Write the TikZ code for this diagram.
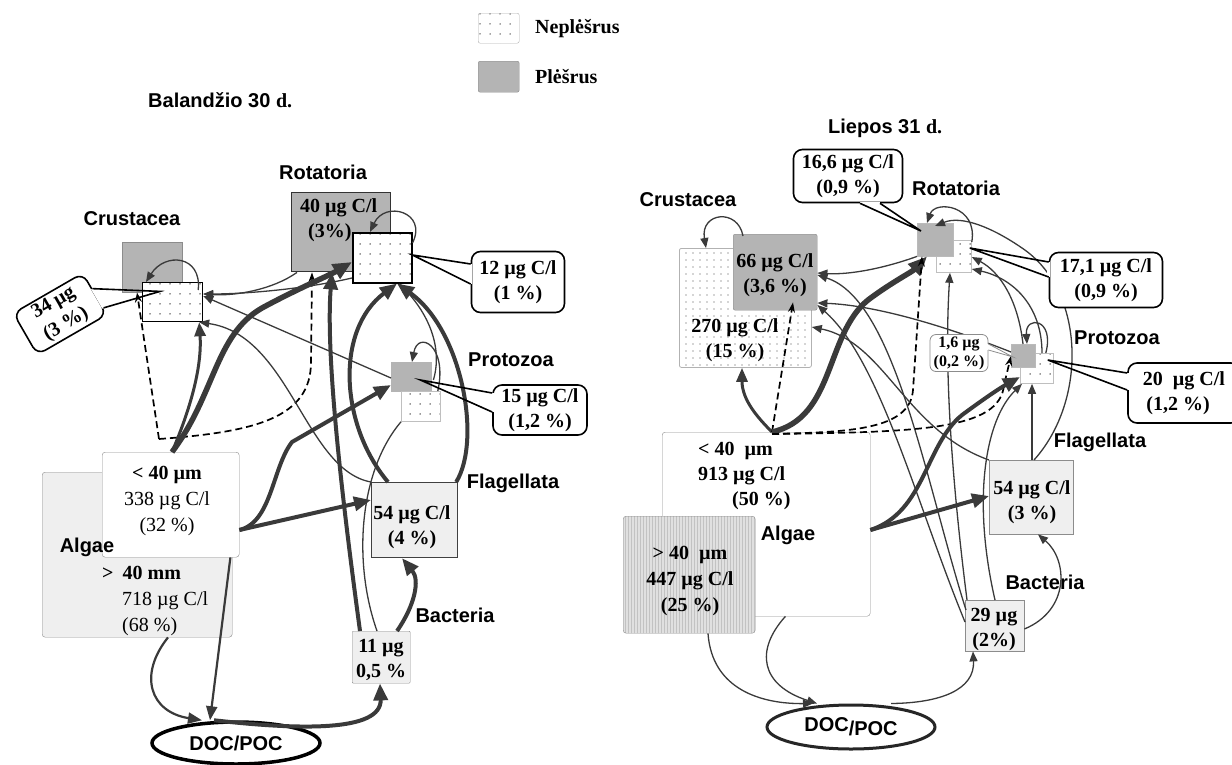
\documentclass[tikz,border=0pt]{standalone}
\usepackage{fontspec}
\setmainfont{Liberation Serif}
\setsansfont{Liberation Sans}
\usetikzlibrary{arrows.meta, patterns, shapes.geometric}
\definecolor{predgray}{HTML}{B4B4B4}
\definecolor{poolgray}{HTML}{EFEFEF}
\definecolor{flow}{HTML}{3A3A3A}
\definecolor{edgegray}{HTML}{8C8C8C}
\pgfdeclarepatternformonly{sparsedots}{\pgfpoint{-1pt}{-1pt}}{\pgfpoint{1pt}{1pt}}{\pgfpoint{10pt}{10pt}}{\pgfpathcircle{\pgfpointorigin}{0.75pt}\pgfusepath{fill}}
\pgfdeclarepatternformonly{finedots}{\pgfpoint{-1pt}{-1pt}}{\pgfpoint{1pt}{1pt}}{\pgfpoint{7pt}{7pt}}{\pgfpathcircle{\pgfpointorigin}{0.6pt}\pgfusepath{fill}}
\pgfdeclarepatternformonly{vstripes}{\pgfpointorigin}{\pgfpoint{2.5pt}{1pt}}{\pgfpoint{2.5pt}{1pt}}{\pgfpathrectangle{\pgfpointorigin}{\pgfpoint{0.9pt}{1pt}}\pgfusepath{fill}}
\tikzset{
  pred/.style={draw=edgegray, fill=predgray, inner sep=0pt, anchor=north west},
  prey/.style={draw=black, line width=1.2pt, inner sep=0pt, anchor=north west,
               preaction={fill=white}, pattern=sparsedots, pattern color=black!80},
  pool/.style={draw=edgegray, fill=poolgray, inner sep=0pt, anchor=north west},
  tag/.style={font=\sffamily\bfseries\fontsize{20}{24}\selectfont, inner sep=0pt},
  num/.style={font=\bfseries\fontsize{20}{25}\selectfont, align=center, inner sep=0pt},
  numr/.style={font=\fontsize{20}{26}\selectfont, align=center, inner sep=0pt},
  callout/.style={draw, line width=1.6pt, rounded corners=9pt, fill=white, inner sep=0pt,
                  font=\bfseries\fontsize{20}{25}\selectfont, align=center},
  tail/.style={line width=1.6pt},
  fl/.style={-{Triangle[length=10pt,width=8pt]}, flow, line width=1.3pt},
  fll/.style={flow, line width=1.3pt},
  flm/.style={-{Triangle[length=14pt,width=11pt]}, flow, line width=3pt},
  flk/.style={-{Triangle[length=17pt,width=14pt]}, flow, line width=4pt},
  flx/.style={-{Triangle[length=19pt,width=16pt]}, flow, line width=5.5pt},
  dl/.style={-{Stealth[length=10pt,width=7pt]}, black, dashed, line width=1.7pt,
             dash pattern=on 7pt off 4pt},
}

\begin{document}
\begin{tikzpicture}[x=1pt, y=-1pt]
  \useasboundingbox (0,0) rectangle (1232,764);

  % legend
  \node[pool, draw=edgegray!70, preaction={fill=white}, pattern=sparsedots, pattern color=black!70,
        minimum width=41pt, minimum height=30pt, rounded corners=2pt] (legD) at (478,13) {};
  \node[pred, minimum width=41pt, minimum height=31pt, rounded corners=2pt] (legG) at (478,61) {};
  \node[num, anchor=west] (legDt) at (535,29) {Neplėšrus};
  \node[num, anchor=west] (legGt) at (535,77) {Plėšrus};

  % ---- Balandzio 30 d.
  \node[tag, anchor=west] (titA) at (148,100) {Balandžio 30 {\rmfamily d.}};

  \node[pool, rounded corners=3pt, minimum width=190pt, minimum height=165pt] (algL1) at (42,472) {};
  \node[pool, fill=white, rounded corners=3pt, minimum width=137pt, minimum height=105pt] (algS1) at (102,452) {};
  \node[numr] (algS1t) at (167,501) {\textbf{< 40 µm}\\338 µg C/l\\(32 \%)};
  \node[numr, align=left, anchor=west] (algL1t) at (102,601)
       {\textbf{>}\hspace{9pt}\textbf{40 mm}\\\hspace*{20pt}718 µg C/l\\\hspace*{20pt}(68 \%)};
  \node[tag] (algA) at (87,547) {Algae};

  \node[pred, minimum width=60pt, minimum height=50pt] (crusG1) at (122,242) {};
  \node[prey, minimum width=60pt, minimum height=39pt] (crusD1) at (142,282) {};
  \node[tag] (crusA) at (132,219) {Crustacea};

  \node[pred, draw=black!80, line width=1.4pt, minimum width=99pt, minimum height=79pt] (rotG1) at (291,192) {};
  \node[num, align=left, anchor=west] (rotG1t) at (300,220) {40 µg C/l\\\hspace*{8pt}(3\%)};
  \node[prey, line width=1.5pt, minimum width=59pt, minimum height=50pt] (rotD1) at (352,232) {};
  \node[tag] (rotA) at (323,172) {Rotatoria};

  \node[pred, draw=predgray, minimum width=40pt, minimum height=29pt] (proG1) at (391,362) {};
  \node[prey, draw=black!25, line width=0.8pt, minimum width=39pt, minimum height=30pt] (proD1) at (401,391) {};
  \node[tag] (proA) at (511,360) {Protozoa};

  \node[pool, draw=black!75, line width=1.2pt, minimum width=86pt, minimum height=75pt] (flag1) at (371,482) {};
  \node[num] (flag1t) at (412,527) {54 µg C/l\\(4 \%)};
  \node[tag] (flagA) at (513,483) {Flagellata};

  \node[pool, minimum width=58pt, minimum height=52pt, rounded corners=1pt] (bact1) at (352,631) {};
  \node[num] (bact1t) at (381,660) {11 µg\\0,5 \%};
  \node[tag] (bactA) at (455,615) {Bacteria};

  \node[ellipse, draw=black, line width=3.5pt, fill=white, minimum width=168pt, minimum height=42pt,
        inner sep=0pt, font=\sffamily\bfseries\fontsize{20}{24}\selectfont] (doc1) at (236,743) {DOC/POC};

  \coordinate (fork1) at (159,439);
  \draw[dl] (fork1) -- ([shift={(15,0)}]crusG1.south west);
  \draw[dl] (fork1) .. controls (255,432) and (311,418) .. (311,362) -- ([shift={(21,0)}]rotG1.south west);
  \draw[flm] ([shift={(70,0)}]algS1.north west) .. controls (192,405) and (202,365) .. ([shift={(-4,0)}]crusD1.south east);
  \draw[flx] ([shift={(70,0)}]algS1.north west) .. controls (215,395) and (215,335) .. (262,308)
             .. controls (295,290) and (330,275) .. ([shift={(0,30)}]rotD1.north west);
  \draw[flk] ([shift={(0,78)}]algS1.north east) -- ([shift={(0,18)}]flag1.north west);
  \draw[flk] ([shift={(0,78)}]algS1.north east) .. controls (272,522) and (272,468) .. (292,442)
             -- ([shift={(0,23)}]proG1.north west);
  \draw[fl] ([shift={(6,0)}]rotG1.south west) .. controls (272,290) and (235,296) .. ([shift={(0,12)}]crusD1.north east);
  \draw[fl] ([shift={(0,46)}]rotD1.north west) .. controls (300,290) and (240,294) .. ([shift={(0,12)}]crusD1.north east);
  \draw[fl] ([shift={(0,16)}]proG1.north west) -- ([shift={(0,14)}]crusD1.north east);
  \draw[fl] (flag1.north west) .. controls (305,470) and (290,335) .. ([shift={(-4,0)}]crusD1.south east);
  \draw[flk] ([shift={(8,0)}]bact1.north west) .. controls (345,520) and (325,360) .. ([shift={(41,0)}]rotG1.south west);
  \draw[flk] ([shift={(17,0)}]flag1.north west) .. controls (340,425) and (335,330) .. ([shift={(45,0)}]rotD1.south west);
  \draw[flk] ([shift={(-2,0)}]flag1.north east) .. controls (482,440) and (462,330) .. ([shift={(45,0)}]rotD1.south west);
  \draw[fl] ([shift={(2,18)}]proG1.north east) .. controls (445,340) and (420,305) .. ([shift={(47,0)}]rotD1.south west);
  \draw[fll] ([shift={(25,0)}]bact1.north west) .. controls (352,560) and (360,470) .. (proD1.south west);
  \draw[flk] ([shift={(45,0)}]bact1.north west) .. controls (415,605) and (420,580) .. ([shift={(31,0)}]flag1.south west);
  \draw[flk] ([shift={(-22,0)}]doc1.north) .. controls (300,730) and (382,732) .. ([shift={(28,0)}]bact1.south west);
  \draw[flm, line width=2.2pt] ([shift={(126,0)}]algL1.south west) .. controls (138,675) and (150,712) .. ([shift={(-34,0)}]doc1.north);
  \draw[flm, line width=2.2pt] ([shift={(-9,0)}]algS1.south east) -- ([shift={(-26,0)}]doc1.north);
  \draw[fl] ([shift={(-5,8)}]crusD1.north east) .. controls (202,255) and (165,252) .. ([shift={(4,0)}]crusD1.north west);
  \draw[fl] ([shift={(0,11)}]rotD1.north east) .. controls (428,212) and (385,200) .. ([shift={(18,0)}]rotD1.north west);
  \draw[fl] ([shift={(-3,0)}]proD1.north east) .. controls (448,345) and (418,330) .. ([shift={(21,0)}]proG1.north west);

  \node[callout, rotate=30, minimum width=80pt, minimum height=48pt] (cal34) at (60,314) {34 µg\\(3 \%)};
  \draw[white, line width=3pt] (cal34.8) -- (cal34.-22);
  \draw[tail] (cal34.8) -- ([shift={(38,-1)}]crusG1.south west) -- (cal34.-22);
  \node[callout, minimum width=93pt, minimum height=61pt] (cal12) at (518,282) {12 µg C/l\\(1 \%)};
  \draw[white, line width=3pt] ([shift={(0,-18)}]cal12.west) -- ([shift={(0,2)}]cal12.west);
  \draw[tail] ([shift={(0,-18)}]cal12.west) -- ([shift={(0,23)}]rotD1.north east) -- ([shift={(0,2)}]cal12.west);
  \node[callout, minimum width=94pt, minimum height=50pt] (cal15) at (540,410) {15 µg C/l\\(1,2 \%)};
  \draw[white, line width=3pt] ([shift={(0,-17)}]cal15.west) -- ([shift={(0,2)}]cal15.west);
  \draw[tail] ([shift={(0,-17)}]cal15.west) -- ([shift={(-11,18)}]proG1.north east) -- ([shift={(0,2)}]cal15.west);

  % ---- Liepos 31 d.
  \node[tag, anchor=west] (titJ) at (828,128) {Liepos 31 {\rmfamily d.}};

  \node[pool, fill=white, rounded corners=3pt, minimum width=208pt, minimum height=184pt] (algS2) at (662,432) {};
  \node[num, align=left, anchor=west] (algS2t) at (698,476) {< 40\ \ µm\\913 µg C/l\\\hspace*{34pt}(50 \%)};
  \node[pool, rounded corners=3pt, fill=black!12, preaction={fill=black!12}, pattern=vstripes, pattern color=black!30,
        minimum width=132pt, minimum height=117pt] (algL2) at (623,516) {};
  \node[num, font=\bfseries\fontsize{20}{26}\selectfont] (algL2t) at (690,581) {>\ 40\ \ µm\\447 µg C/l\\(25 \%)};
  \node[tag] (algJ) at (788,535) {Algae};

  \node[prey, draw=black!30, line width=0.8pt, pattern=finedots, pattern color=black!70, rounded corners=2pt,
        minimum width=132pt, minimum height=119pt] (crusD2) at (679,248) {};
  \node[pred, rounded corners=2pt, minimum width=84pt, minimum height=76pt] (crusG2) at (733,234) {};
  \node[num] (crusG2t) at (775,275) {66 µg C/l\\(3,6 \%)};
  \node[num] (crusD2t) at (735,340) {270 µg C/l\\(15 \%)};
  \node[tag] (crusJ) at (688,200) {Crustacea};

  \node[prey, draw=black!25, line width=0.8pt, minimum width=35pt, minimum height=32pt] (rotD2) at (936,240) {};
  \node[pred, draw=edgegray!60, minimum width=36pt, minimum height=33pt] (rotG2) at (917,223) {};
  \node[tag] (rotJ) at (956,188) {Rotatoria};

  \node[prey, draw=black!25, line width=0.8pt, minimum width=33pt, minimum height=30pt] (proD2) at (1020,353) {};
  \node[pred, draw=edgegray!60, minimum width=24pt, minimum height=23pt] (proG2) at (1011,344) {};
  \node[tag] (proJ) at (1117,338) {Protozoa};

  \node[pool, minimum width=84pt, minimum height=74pt] (flag2) at (989,460) {};
  \node[num] (flag2t) at (1032,502) {54 µg C/l\\(3 \%)};
  \node[tag] (flagJ) at (1100,442) {Flagellata};

  \node[pool, minimum width=59pt, minimum height=51pt] (bact2) at (965,600) {};
  \node[num] (bact2t) at (994,629) {29 µg\\(2\%)};
  \node[tag] (bactJ) at (1045,582) {Bacteria};

  \node[ellipse, draw=black!85, line width=3pt, fill=white, minimum width=168pt, minimum height=44pt,
        inner sep=0pt, font=\sffamily\bfseries\fontsize{20}{24}\selectfont] (doc2) at (851,727) {DOC\raisebox{-4pt}{/POC}};

  \draw[flm] ([shift={(110,0)}]algS2.north west) .. controls (758,418) and (742,400) .. ([shift={(63,0)}]crusD2.south west);
  \draw[dl] ([shift={(110,0)}]algS2.north west) -- ([shift={(60,-8)}]crusG2.south west);
  \draw[flx] ([shift={(110,0)}]algS2.north west) .. controls (835,418) and (825,335) .. (868,300)
             .. controls (892,282) and (912,272) .. ([shift={(10,0)}]rotG2.south west);
  \draw[dl] ([shift={(110,2)}]algS2.north west) .. controls (850,432) and (910,430) .. (913,390)
            -- ([shift={(5,0)}]rotG2.south west);
  \draw[dl] ([shift={(110,2)}]algS2.north west) .. controls (920,432) and (1000,430) .. (1004,385)
            -- ([shift={(0,12)}]proG2.north west);
  \draw[flk] ([shift={(0,98)}]algS2.north east) .. controls (925,512) and (925,445) .. (962,415)
             .. controls (985,398) and (1000,388) .. ([shift={(0,24)}]proD2.north west);
  \draw[flk] ([shift={(0,98)}]algS2.north east) -- ([shift={(0,36)}]flag2.north west);
  \draw[fl] (rotG2.south west) .. controls (885,268) and (850,275) .. ([shift={(0,39)}]crusG2.north east);
  \draw[fl] ([shift={(0,8)}]proG2.north west) .. controls (935,322) and (870,305) .. ([shift={(0,69)}]crusG2.north east);
  \draw[fl] (flag2.north west) .. controls (905,430) and (885,342) .. ([shift={(0,79)}]crusD2.north east);
  \draw[fl] ([shift={(1,10)}]bact2.north west) .. controls (925,480) and (895,300) .. ([shift={(0,41)}]crusG2.north east);
  \draw[fl] ([shift={(2,0)}]bact2.north west) .. controls (948,450) and (945,350) .. ([shift={(14,0)}]rotD2.south west);
  \draw[fl] ([shift={(0,22)}]bact2.north west) .. controls (915,500) and (880,360) .. ([shift={(0,71)}]crusG2.north east);
  \draw[fl] ([shift={(12,0)}]proG2.north west) .. controls (1018,300) and (1000,272) .. ([shift={(0,17)}]rotD2.north east);
  \draw[fl] ([shift={(22,0)}]proD2.north west) .. controls (1042,305) and (1012,278) .. ([shift={(0,29)}]rotD2.north east);
  \draw[fl] ([shift={(45,0)}]flag2.north west) .. controls (1088,400) and (1085,290) .. (1022,248)
            .. controls (993,228) and (962,215) .. ([shift={(18,3)}]rotG2.north west);
  \draw[fl] ([shift={(43,0)}]flag2.north west) -- ([shift={(12,0)}]proD2.south west);
  \draw[fl] ([shift={(30,0)}]bact2.north west) .. controls (972,500) and (985,420) .. ([shift={(2,0)}]proD2.south west);
  \draw[fl] ([shift={(0,29)}]bact2.north east) .. controls (1070,610) and (1068,560) .. ([shift={(49,0)}]flag2.south west);
  \draw[fl] ([shift={(40,0)}]doc2.north) .. controls (940,703) and (975,690) .. ([shift={(8,0)}]bact2.south west);
  \draw[fl] ([shift={(85,0)}]algL2.south west) .. controls (712,690) and (762,704) .. ([shift={(-38,0)}]doc2.north);
  \draw[fl] ([shift={(-85,0)}]algS2.south east) .. controls (755,650) and (760,685) .. ([shift={(-34,0)}]doc2.north);
  \draw[fl] ([shift={(10,2)}]crusG2.north west) .. controls (738,208) and (700,212) .. ([shift={(27,0)}]crusD2.north west);
  \draw[fl] ([shift={(0,2)}]rotD2.north east) .. controls (978,205) and (935,200) .. ([shift={(10,0)}]rotG2.north west);
  \draw[fl] ([shift={(-8,0)}]proD2.north east) .. controls (1055,318) and (1025,315) .. ([shift={(16,0)}]proG2.north west);

  \node[callout, minimum width=109pt, minimum height=53pt] (cal166) at (848,176) {16,6 µg C/l\\(0,9 \%)};
  \draw[white, line width=3pt] ([shift={(12,0)}]cal166.south) -- ([shift={(32,0)}]cal166.south);
  \draw[tail] ([shift={(12,0)}]cal166.south) -- ([shift={(4,8)}]rotG2.north west) -- ([shift={(32,0)}]cal166.south);
  \node[callout, minimum width=113pt, minimum height=55pt] (cal171) at (1106,280) {17,1 µg C/l\\(0,9 \%)};
  \draw[white, line width=3pt] ([shift={(0,-18)}]cal171.west) -- ([shift={(0,-3)}]cal171.west);
  \draw[tail] ([shift={(0,-18)}]cal171.west) -- ([shift={(-2,8)}]rotD2.north east) -- ([shift={(0,-3)}]cal171.west);
  \node[callout, minimum width=112pt, minimum height=60pt] (cal20) at (1184,393) {20\ \ µg C/l\\(1,2 \%)\hspace*{12pt}};
  \draw[white, line width=3pt] ([shift={(0,-20)}]cal20.west) -- ([shift={(0,-3)}]cal20.west);
  \draw[tail] ([shift={(0,-20)}]cal20.west) -- ([shift={(-6,7)}]proD2.north east) -- ([shift={(0,-3)}]cal20.west);
  \node[callout, draw=black!45, line width=0.8pt, rounded corners=6pt, font=\bfseries\fontsize{16}{19}\selectfont,
        minimum width=58pt, minimum height=37pt] (cal16) at (959,353) {1,6 µg\\(0,2 \%)};
  \draw[white, line width=2pt] ([shift={(0,-9)}]cal16.east) -- ([shift={(0,-3)}]cal16.east);
  \draw[black!45, line width=0.8pt] ([shift={(0,-9)}]cal16.east) -- ([shift={(2,13)}]proG2.north west) -- ([shift={(0,-3)}]cal16.east);
\end{tikzpicture}
\end{document}
